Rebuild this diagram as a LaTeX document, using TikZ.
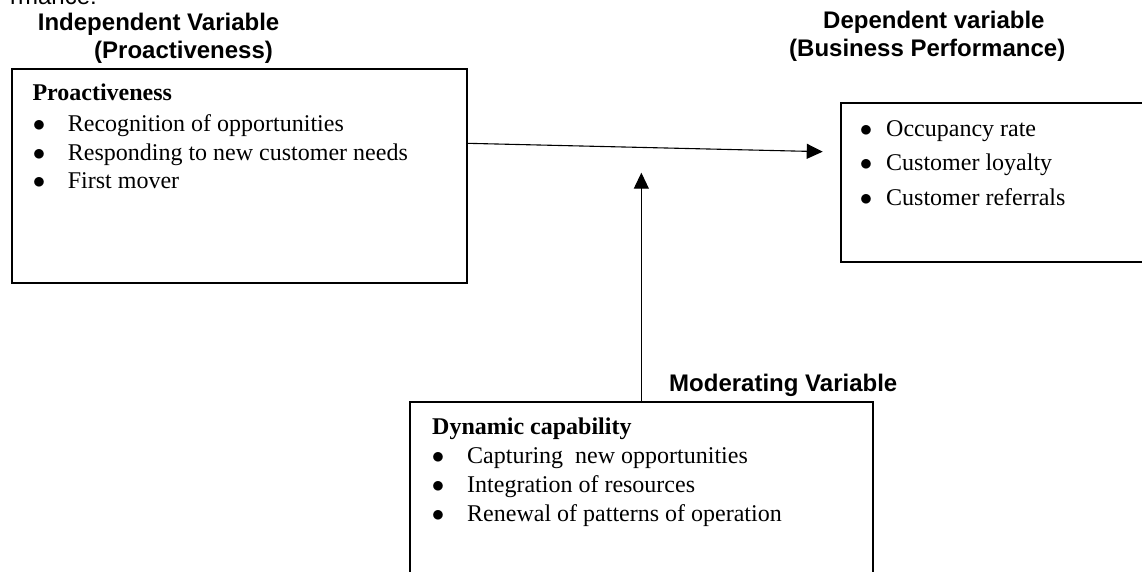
\documentclass[tikz,border=0pt]{standalone}
\usepackage{fontspec}
\setmainfont{Liberation Serif}
\newfontfamily\arialf{Liberation Sans}
\usetikzlibrary{arrows.meta}
\begin{document}
\begin{tikzpicture}[x=1pt,y=-1pt,
  box/.style={draw, line width=1.8pt, rectangle, inner sep=0pt, outer sep=0pt},
  head/.style={font=\arialf\bfseries\fontsize{24}{28}\selectfont, inner sep=0pt, anchor=base west},
  plainhead/.style={font=\arialf\fontsize{24}{28}\selectfont, inner sep=0pt, anchor=base east},
  body/.style={font=\fontsize{24}{28}\selectfont, inner sep=0pt, anchor=base west},
  bodyb/.style={font=\bfseries\fontsize{24}{28}\selectfont, inner sep=0pt, anchor=base west},
  bul/.style={font=\fontsize{24}{28}\selectfont, inner sep=0pt, anchor=base},
  arr/.style={line width=1.1pt, -{Triangle[length=16pt,width=15pt]}}]
\useasboundingbox (0,0) rectangle (1142,572);
\clip (0,0) rectangle (1142,572);

% partially visible text at top
\node[plainhead] (cut) at (97,5) {rmance:};

% headings
\node[head] (h1) at (37.7,30.5) {Independent Variable};
\node[head] (h2) at (94,59) {(Proactiveness)};
\node[head] (h3) at (823,29) {Dependent variable};
\node[head] (h4) at (789,57) {(Business Performance)};
\node[head] (h5) at (669,391) {Moderating Variable};

% boxes
\node[box, minimum width=454.7pt, minimum height=213.7pt] (iv) at (239.35,175.85) {};
\node[box, minimum width=340pt, minimum height=158.7pt] (dv) at (1010.7,182.35) {};
\node[box, minimum width=462.7pt, minimum height=220pt] (mv) at (641.35,511.7) {};

% left box text
\node[bodyb] (t1) at (32.3,101) {Proactiveness};
\node[bul] (b11) at (39,131.5) {$\bullet$};
\node[body] (t11) at (67.7,131.5) {Recognition of opportunities};
\node[bul] (b12) at (39,160.5) {$\bullet$};
\node[body] (t12) at (67.7,160.5) {Responding to new customer needs};
\node[bul] (b13) at (39,189) {$\bullet$};
\node[body] (t13) at (67.7,189) {First mover};

% right box text
\node[bul] (b21) at (866,137) {$\bullet$};
\node[body] (t21) at (886,137) {Occupancy rate};
\node[bul] (b22) at (866,171) {$\bullet$};
\node[body] (t22) at (886,171) {Customer loyalty};
\node[bul] (b23) at (866,205) {$\bullet$};
\node[body] (t23) at (886,205) {Customer referrals};

% bottom box text
\node[bodyb] (t3) at (432,434) {Dynamic capability};
\node[bul] (b31) at (438,463) {$\bullet$};
\node[body] (t31) at (467,463) {Capturing\ \ new opportunities};
\node[bul] (b32) at (438,492) {$\bullet$};
\node[body] (t32) at (467,492) {Integration of resources};
\node[bul] (b33) at (438,521) {$\bullet$};
\node[body] (t33) at (467,521) {Renewal of patterns of operation};

% connectors
\coordinate (p1) at (iv.east |- 0,143.3);
\coordinate (p2) at (822.7,151.7);
\draw[arr] (p1) -- (p2);
\coordinate (m2) at (mv.north |- 0,172.7);
\draw[arr] (mv.north) -- (m2);
\end{tikzpicture}
\end{document}
